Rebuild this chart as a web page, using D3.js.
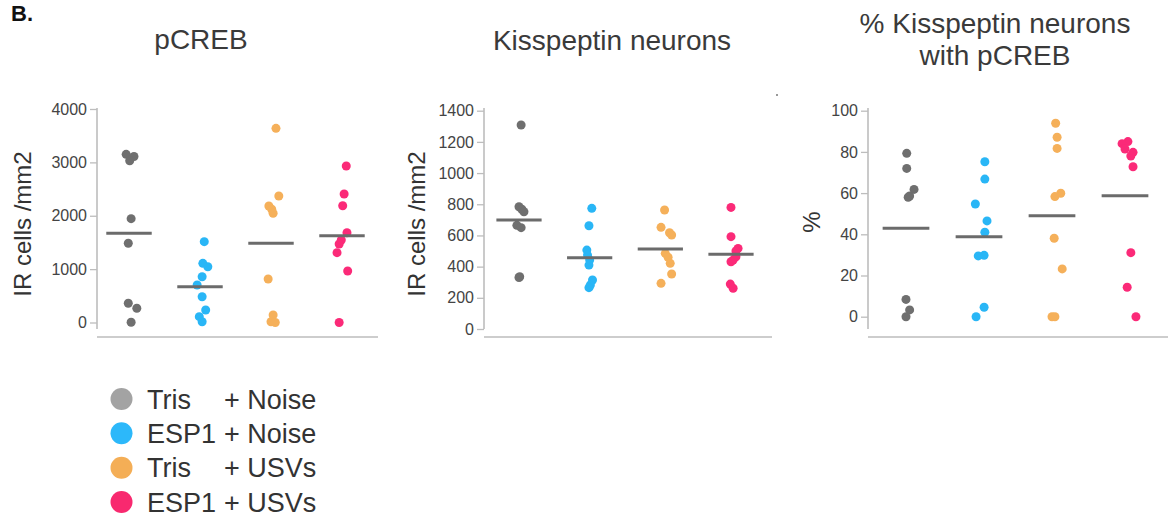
<!DOCTYPE html>
<html>
<head>
<meta charset="utf-8">
<script src="https://cdn.jsdelivr.net/npm/d3@7"></script>
<style>
    body { margin: 0; background: #fff; }
    svg { font-family: "Liberation Sans", Arial, Helvetica, sans-serif; }
    .tick text { fill: #444; }
</style>
</head>
<body>
<svg id="chart" width="1169" height="517"></svg>
<script>
// groups shown in every panel
const groups = ["Tris + Noise", "ESP1 + Noise", "Tris + USVs", "ESP1 + USVs"];
const legendDrug = ["Tris", "ESP1", "Tris", "ESP1"];
const legendStim = ["+ Noise", "+ Noise", "+ USVs", "+ USVs"];

// pCREB, IR cells /mm2
const pcrebValues = [
    [3150, 3110, 3030, 1945, 1484, 360, 266, 4],
    [1514, 1109, 1045, 858, 702, 483, 234, 109, 15],
    [3638, 2370, 2183, 2121, 2046, 815, 140, 15, 0],
    [2932, 2407, 2188, 1682, 1546, 1471, 1308, 965, 0]
];
const pcrebSpread = [
    [-0.04, 0.07, 0.01, 0.03, -0.01, -0.01, 0.11, 0.03],
    [0.06, 0.04, 0.11, 0.03, -0.04, 0.03, 0.08, -0.01, 0.03],
    [0.07, 0.11, -0.03, 0.01, 0.03, -0.04, 0.03, 0, 0.06],
    [0.06, 0.03, 0.01, 0.07, -0.01, -0.04, -0.07, 0.08, -0.04]
];
const pcrebMeans = [1671, 671, 1484, 1626];
const pcrebTicks = [0, 1000, 2000, 3000, 4000];

// Kisspeptin neurons, IR cells /mm2
const kissValues = [
    [1308, 784, 768, 752, 665, 650, 335, 330],
    [774, 662, 506, 474, 442, 410, 314, 282, 265],
    [763, 652, 617, 603, 485, 460, 421, 353, 293],
    [780, 592, 517, 500, 463, 442, 431, 288, 261]
];
const kissSpread = [
    [0.03, 0, 0.04, 0.07, -0.03, 0.03, 0.01, 0],
    [0.03, -0.01, -0.04, -0.03, 0, -0.01, 0.04, 0.01, -0.01],
    [0.06, 0.01, 0.13, 0.16, 0.07, 0.11, 0.14, 0.16, 0.01],
    [0, 0, 0.1, 0.07, 0.07, 0.03, 0, -0.01, 0.03]
];
const kissMeans = [699, 457, 513, 479];
const kissTicks = [0, 200, 400, 600, 800, 1000, 1200, 1400];

// % Kisspeptin neurons with pCREB
const pctValues = [
    [79.3, 72, 61.8, 58.6, 58, 8.4, 3.3, 0],
    [75.2, 66.8, 54.7, 46.5, 41, 29.8, 29.5, 4.6, 0],
    [93.9, 87.1, 81.7, 59.9, 58.3, 38.1, 23.2, 0, 0],
    [85, 84, 81.4, 79.8, 78, 72.8, 31.1, 14.3, 0]
];
const pctSpread = [
    [0.01, 0.01, 0.11, 0.05, 0.03, 0, 0.05, 0],
    [0.08, 0.08, -0.05, 0.11, 0.08, 0.07, -0.01, 0.07, -0.04],
    [0.05, 0.07, 0.07, 0.12, 0.04, 0.03, 0.14, 0, 0.04],
    [0.04, -0.04, 0, 0.11, 0.08, 0.11, 0.08, 0.03, 0.15]
];
const pctMeans = [42.9, 38.8, 49.0, 58.7];
const pctTicks = [0, 20, 40, 60, 80, 100];

const dotColors = ["#6f6f6f", "#29b6f6", "#f5b05a", "#fb2a78"];
const legendColors = ["#a3a3a3", "#2cb8fa", "#f4ae56", "#f8296f"];

class DotPanel {
    constructor(_config, _data) {
        this.config = {
            parentElement: _config.parentElement,
            axisLeft: _config.axisLeft,
            axisRight: _config.axisRight,
            groupRange: _config.groupRange,
            yRange: _config.yRange,
            frameTop: _config.frameTop || 108,
            frameBottom: _config.frameBottom || 329,
            baseline: _config.baseline || 337,
            yLabel: _config.yLabel,
            yLabelPos: _config.yLabelPos,
            title: _config.title,
            titleX: _config.titleX,
            titleY: _config.titleY,
            dotRadius: _config.dotRadius || 4.5
        }
        this.values = _data.values;
        this.spread = _data.spread;
        this.means = _data.means;
        this.ticks = _data.ticks;

        this.initVis();
    }

    initVis() {
        let vis = this;

        vis.svg = d3.select(vis.config.parentElement);
        vis.g = vis.svg.append("g");

        vis.xScale = d3.scalePoint()
            .domain(groups)
            .range(vis.config.groupRange);

        vis.yScale = d3.scaleLinear()
            .domain(d3.extent(vis.ticks))
            .range(vis.config.yRange);

        vis.colorScale = d3.scaleOrdinal()
            .domain(groups)
            .range(dotColors);

        vis.renderVis();
    }

    renderVis() {
        let vis = this;
        let cfg = vis.config;

        // y axis, ticks only, the line is drawn separately
        let yAxis = d3.axisLeft(vis.yScale)
            .tickValues(vis.ticks)
            .tickFormat(d3.format("d"))
            .tickSize(7)
            .tickPadding(3)
            .tickSizeOuter(0);

        let axisG = vis.g.append("g")
            .attr("transform", `translate(${cfg.axisLeft},0)`)
            .call(yAxis);
        axisG.select(".domain").remove();
        axisG.selectAll(".tick line").attr("stroke", "#bdbdbd").attr("stroke-width", 1.3);
        axisG.selectAll(".tick text")
            .attr("font-size", 16)
            .attr("font-family", "Liberation Sans, Arial, sans-serif");

        vis.g.append("line")
            .attr("x1", cfg.axisLeft).attr("x2", cfg.axisLeft)
            .attr("y1", cfg.frameTop).attr("y2", cfg.frameBottom)
            .attr("stroke", "#bdbdbd").attr("stroke-width", 1.6);

        vis.g.append("line")
            .attr("x1", cfg.axisLeft).attr("x2", cfg.axisRight)
            .attr("y1", cfg.baseline).attr("y2", cfg.baseline)
            .attr("stroke", "#bdbdbd").attr("stroke-width", 1.6);

        // y label
        vis.g.append("text")
            .attr("transform", `translate(${cfg.yLabelPos[0]},${cfg.yLabelPos[1]}) rotate(-90)`)
            .attr("text-anchor", "middle")
            .attr("font-size", 24)
            .attr("fill", "#333")
            .text(cfg.yLabel);

        // title, one or two lines
        let title = vis.g.append("text")
            .attr("text-anchor", "middle")
            .attr("font-size", 28)
            .attr("fill", "#3a3a3a");
        cfg.title.forEach((line, i) => {
            title.append("tspan")
                .attr("x", cfg.titleX)
                .attr("y", cfg.titleY[i])
                .text(line);
        });

        // points
        let points = [];
        vis.values.forEach((vals, gi) => {
            vals.forEach((v, j) => {
                points.push({ group: groups[gi], value: v, spread: vis.spread[gi][j] });
            });
        });

        vis.g.append("g")
            .selectAll("circle")
            .data(points)
            .join("circle")
            .attr("cx", d => vis.xScale(d.group) + d.spread * vis.xScale.step())
            .attr("cy", d => vis.yScale(d.value))
            .attr("r", cfg.dotRadius)
            .attr("fill", d => vis.colorScale(d.group));

        // mean lines
        let halfWidth = vis.xScale.step() * 0.32;
        vis.g.append("g")
            .selectAll("line")
            .data(vis.means.map((m, i) => ({ group: groups[i], mean: m })))
            .join("line")
            .attr("x1", d => vis.xScale(d.group) - halfWidth)
            .attr("x2", d => vis.xScale(d.group) + halfWidth)
            .attr("y1", d => vis.yScale(d.mean))
            .attr("y2", d => vis.yScale(d.mean))
            .attr("stroke", "#6b6b6b")
            .attr("stroke-width", 3);
    }
}

const svg = d3.select("#chart");

// panel letter
svg.append("text")
    .attr("x", 11)
    .attr("y", 21)
    .attr("font-size", 22)
    .attr("font-weight", "bold")
    .attr("fill", "#111")
    .text("B.");

new DotPanel({
    parentElement: "#chart",
    axisLeft: 97, axisRight: 378,
    groupRange: [129, 342],
    yRange: [322.5, 109],
    yLabel: "IR cells /mm2", yLabelPos: [31, 224],
    title: ["pCREB"], titleX: 201, titleY: [49]
}, { values: pcrebValues, spread: pcrebSpread, means: pcrebMeans, ticks: pcrebTicks });

new DotPanel({
    parentElement: "#chart",
    axisLeft: 484, axisRight: 772,
    groupRange: [519, 731],
    yRange: [329, 110.7],
    yLabel: "IR cells /mm2", yLabelPos: [425, 224],
    title: ["Kisspeptin neurons"], titleX: 612, titleY: [50]
}, { values: kissValues, spread: kissSpread, means: kissMeans, ticks: kissTicks });

new DotPanel({
    parentElement: "#chart",
    axisLeft: 868, axisRight: 1168,
    groupRange: [906, 1125],
    yRange: [316.7, 110.7],
    yLabel: "%", yLabelPos: [820, 222],
    title: ["% Kisspeptin neurons", "with pCREB"], titleX: 995, titleY: [33, 65]
}, { values: pctValues, spread: pctSpread, means: pctMeans, ticks: pctTicks });

// small stray mark from the source figure
svg.append("rect")
    .attr("x", 776).attr("y", 94)
    .attr("width", 2).attr("height", 2)
    .attr("fill", "#999");

// legend
const legend = svg.append("g").attr("id", "legend");
const legendY = d3.scalePoint().domain(groups).range([399, 502]);

legend.selectAll("circle")
    .data(groups)
    .join("circle")
    .attr("cx", 121.5)
    .attr("cy", d => legendY(d))
    .attr("r", 11)
    .attr("fill", (d, i) => legendColors[i]);

legend.selectAll("text.drug")
    .data(groups)
    .join("text")
    .attr("class", "drug")
    .attr("x", 147)
    .attr("y", d => legendY(d) + 9.5)
    .attr("font-size", 27)
    .attr("fill", "#333")
    .text((d, i) => legendDrug[i]);

legend.selectAll("text.stim")
    .data(groups)
    .join("text")
    .attr("class", "stim")
    .attr("x", 224)
    .attr("y", d => legendY(d) + 9.5)
    .attr("font-size", 27)
    .attr("fill", "#333")
    .text((d, i) => legendStim[i]);
</script>
</body>
</html>
